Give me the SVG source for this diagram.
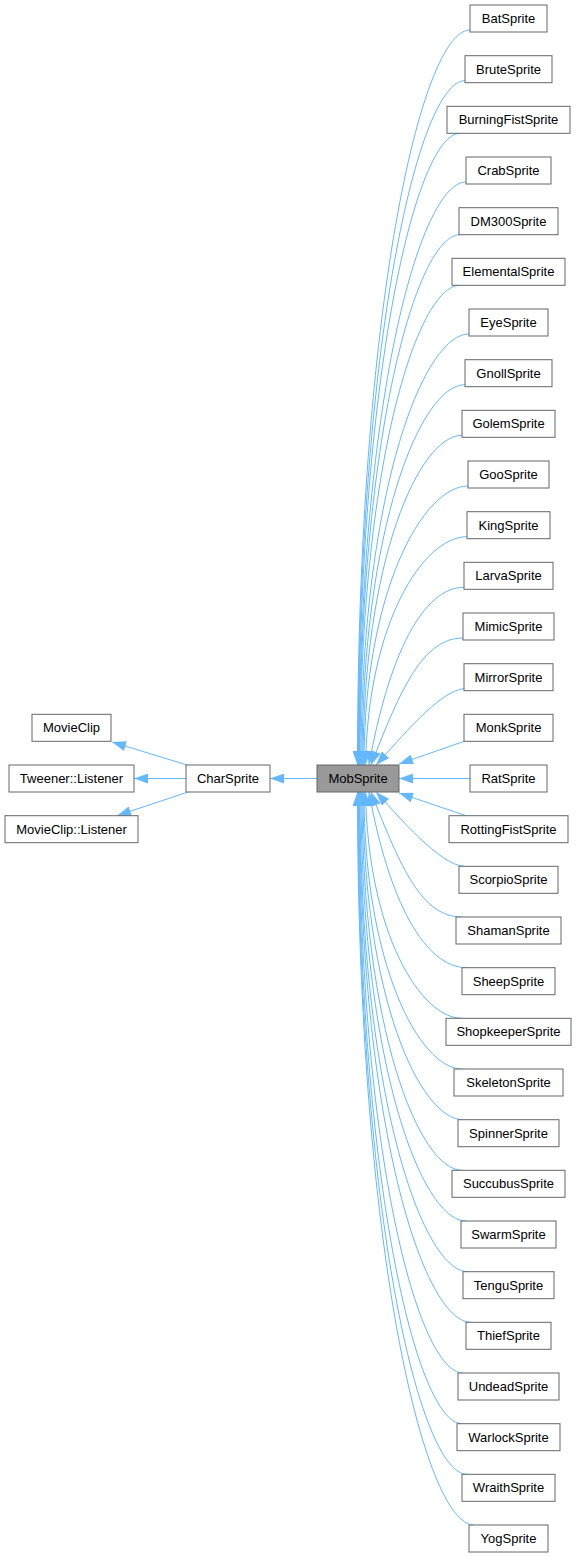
<svg xmlns="http://www.w3.org/2000/svg" width="576" height="1557" viewBox="0 0 576 1557">
<style>
.n rect{fill:#ffffff;stroke:#666666;stroke-width:1}
.n text{font-family:"Liberation Sans",Arial,sans-serif;font-size:13px;text-anchor:middle;fill:#000000}
#MobSprite rect{fill:#999999}
.e path{fill:none;stroke:#63b8ff;stroke-width:1;marker-end:url(#a)}
</style>
<defs>
<marker id="a" markerUnits="userSpaceOnUse" markerWidth="14" markerHeight="10" viewBox="0 0 14 10" refX="14" refY="5" orient="auto">
<path d="M0,0 L14,5 L0,10 z" fill="#63b8ff"/>
</marker>
</defs>
<rect width="576" height="1557" fill="#ffffff"/>
<g class="e" id="edges">
<path d="M317,778.5 L270,778.5"/>
<path d="M186,778.5 L134,778.5"/>
<path d="M187,765 L112,742"/>
<path d="M188,792 L117,815.7"/>
<path d="M470,30 C421.6,30 357.5,305.6 357.5,765"/>
<path d="M465,80.7 C419,80.7 358,337.3 358,765"/>
<path d="M460,133.3 C416.4,133.3 358.5,370.2 358.5,765"/>
<path d="M466,182 C420,182 359,400.6 359,765"/>
<path d="M460,234.7 C416.8,234.7 359.5,433.6 359.5,765"/>
<path d="M460,285.3 C417,285.3 360,465.2 360,765"/>
<path d="M469,334 C422.6,334 361,495.6 361,765"/>
<path d="M465,384.7 C420.7,384.7 362,527.3 362,765"/>
<path d="M462,435.3 C419.4,435.3 363,559 363,765"/>
<path d="M468,486 C423.3,486 364,590.6 364,765"/>
<path d="M467,536.7 C423.4,536.7 368,622.3 365.5,765"/>
<path d="M464,587.3 C423.2,587.3 389,653.9 369,765"/>
<path d="M463,638 C423,638 401,688 371,765"/>
<path d="M464,688.7 C440,690 399,740 376,765"/>
<path d="M465,741 L399,764"/>
<path d="M470,778.5 L399,778.5"/>
<path d="M466,815.7 L399,793"/>
<path d="M464,866.3 C440,865 399,817 376,792"/>
<path d="M462,917 C422,917 401,869 371,792"/>
<path d="M467,967.7 C424.9,967.7 389,901.8 369,792"/>
<path d="M462,1018.3 C420.5,1018.3 368,933.4 365.5,792"/>
<path d="M462,1069 C419.9,1069 364,965.1 364,792"/>
<path d="M463,1119.7 C420,1119.7 363,996.8 363,792"/>
<path d="M462,1170.3 C419,1170.3 362,1028.4 362,792"/>
<path d="M466,1221 C420.9,1221 361,1060.1 361,792"/>
<path d="M468,1271.7 C421.6,1271.7 360,1091.8 360,792"/>
<path d="M471,1322.3 C423.1,1322.3 359.5,1123.4 359.5,792"/>
<path d="M463,1373 C418.3,1373 359,1155.1 359,792"/>
<path d="M462,1423.7 C417.5,1423.7 358.5,1186.8 358.5,792"/>
<path d="M467,1474.3 C420.1,1474.3 358,1218.4 358,792"/>
<path d="M474,1525 C424.4,1525 357.5,1250.1 357.5,792"/>
</g>
<g class="n" id="MovieClip"><rect x="32" y="714.3" width="79" height="27"/><text x="71.5" y="732.3">MovieClip</text></g>
<g class="n" id="TweenerListener"><rect x="9" y="765" width="125" height="27"/><text x="71.5" y="783">Tweener::Listener</text></g>
<g class="n" id="MovieClipListener"><rect x="5" y="815.7" width="133" height="27"/><text x="71.5" y="833.7">MovieClip::Listener</text></g>
<g class="n" id="CharSprite"><rect x="186" y="765" width="84" height="27"/><text x="228" y="783">CharSprite</text></g>
<g class="n" id="MobSprite"><rect x="317" y="765" width="82" height="27"/><text x="358" y="783">MobSprite</text></g>
<g class="n" id="BatSprite"><rect x="470" y="5" width="77" height="27"/><text x="508.5" y="23">BatSprite</text></g>
<g class="n" id="BruteSprite"><rect x="465" y="55.7" width="87" height="27"/><text x="508.5" y="73.7">BruteSprite</text></g>
<g class="n" id="BurningFistSprite"><rect x="447" y="106.3" width="123" height="27"/><text x="508.5" y="124.3">BurningFistSprite</text></g>
<g class="n" id="CrabSprite"><rect x="466" y="157" width="85" height="27"/><text x="508.5" y="175">CrabSprite</text></g>
<g class="n" id="DM300Sprite"><rect x="459" y="207.7" width="99" height="27"/><text x="508.5" y="225.7">DM300Sprite</text></g>
<g class="n" id="ElementalSprite"><rect x="452" y="258.3" width="113" height="27"/><text x="508.5" y="276.3">ElementalSprite</text></g>
<g class="n" id="EyeSprite"><rect x="469" y="309" width="79" height="27"/><text x="508.5" y="327">EyeSprite</text></g>
<g class="n" id="GnollSprite"><rect x="465" y="359.7" width="87" height="27"/><text x="508.5" y="377.7">GnollSprite</text></g>
<g class="n" id="GolemSprite"><rect x="462" y="410.3" width="93" height="27"/><text x="508.5" y="428.3">GolemSprite</text></g>
<g class="n" id="GooSprite"><rect x="468" y="461" width="81" height="27"/><text x="508.5" y="479">GooSprite</text></g>
<g class="n" id="KingSprite"><rect x="467" y="511.7" width="83" height="27"/><text x="508.5" y="529.7">KingSprite</text></g>
<g class="n" id="LarvaSprite"><rect x="464" y="562.3" width="89" height="27"/><text x="508.5" y="580.3">LarvaSprite</text></g>
<g class="n" id="MimicSprite"><rect x="463" y="613" width="91" height="27"/><text x="508.5" y="631">MimicSprite</text></g>
<g class="n" id="MirrorSprite"><rect x="464" y="663.7" width="89" height="27"/><text x="508.5" y="681.7">MirrorSprite</text></g>
<g class="n" id="MonkSprite"><rect x="464" y="714.3" width="89" height="27"/><text x="508.5" y="732.3">MonkSprite</text></g>
<g class="n" id="RatSprite"><rect x="470" y="765" width="77" height="27"/><text x="508.5" y="783">RatSprite</text></g>
<g class="n" id="RottingFistSprite"><rect x="449" y="815.7" width="119" height="27"/><text x="508.5" y="833.7">RottingFistSprite</text></g>
<g class="n" id="ScorpioSprite"><rect x="459" y="866.3" width="99" height="27"/><text x="508.5" y="884.3">ScorpioSprite</text></g>
<g class="n" id="ShamanSprite"><rect x="456" y="917" width="105" height="27"/><text x="508.5" y="935">ShamanSprite</text></g>
<g class="n" id="SheepSprite"><rect x="462" y="967.7" width="93" height="27"/><text x="508.5" y="985.7">SheepSprite</text></g>
<g class="n" id="ShopkeeperSprite"><rect x="446" y="1018.3" width="125" height="27"/><text x="508.5" y="1036.3">ShopkeeperSprite</text></g>
<g class="n" id="SkeletonSprite"><rect x="454" y="1069" width="109" height="27"/><text x="508.5" y="1087">SkeletonSprite</text></g>
<g class="n" id="SpinnerSprite"><rect x="458" y="1119.7" width="101" height="27"/><text x="508.5" y="1137.7">SpinnerSprite</text></g>
<g class="n" id="SuccubusSprite"><rect x="452" y="1170.3" width="113" height="27"/><text x="508.5" y="1188.3">SuccubusSprite</text></g>
<g class="n" id="SwarmSprite"><rect x="461" y="1221" width="95" height="27"/><text x="508.5" y="1239">SwarmSprite</text></g>
<g class="n" id="TenguSprite"><rect x="463" y="1271.7" width="91" height="27"/><text x="508.5" y="1289.7">TenguSprite</text></g>
<g class="n" id="ThiefSprite"><rect x="466" y="1322.3" width="85" height="27"/><text x="508.5" y="1340.3">ThiefSprite</text></g>
<g class="n" id="UndeadSprite"><rect x="458" y="1373" width="101" height="27"/><text x="508.5" y="1391">UndeadSprite</text></g>
<g class="n" id="WarlockSprite"><rect x="457" y="1423.7" width="103" height="27"/><text x="508.5" y="1441.7">WarlockSprite</text></g>
<g class="n" id="WraithSprite"><rect x="462" y="1474.3" width="93" height="27"/><text x="508.5" y="1492.3">WraithSprite</text></g>
<g class="n" id="YogSprite"><rect x="469" y="1525" width="79" height="27"/><text x="508.5" y="1543">YogSprite</text></g>
</svg>
